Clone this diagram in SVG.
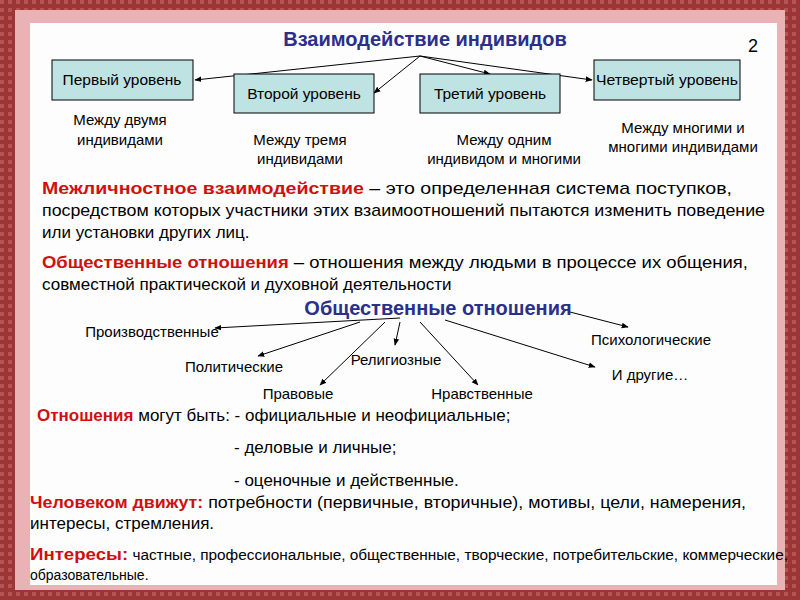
<svg xmlns="http://www.w3.org/2000/svg" width="800" height="600" viewBox="0 0 800 600">
<defs>
<marker id="ah" viewBox="0 0 10 10" refX="9" refY="5" markerWidth="7" markerHeight="7" orient="auto"><path d="M0,1 L10,5 L0,9 z" fill="#000"/></marker>
<pattern id="pat" width="8" height="8" patternUnits="userSpaceOnUse"><rect width="8" height="8" fill="#9c3535"/><rect width="4" height="4" fill="#b55252"/></pattern>
</defs>
<style>
text{font-family:"Liberation Sans",Arial,sans-serif;fill:#000}
.box{fill:#bfe2e2;stroke:#000;stroke-width:1}
.bt{font-size:15.5px;text-anchor:middle}
.s{font-size:15px;text-anchor:middle}
.b{font-size:17px}
.red{fill:#d01010;font-weight:bold}
.hd{fill:#2b2f8a;font-weight:bold;font-size:20px;text-anchor:middle}
.c line{stroke:#000;stroke-width:1;marker-end:url(#ah)}
</style>
<rect width="800" height="600" fill="url(#pat)"/>
<rect x="15" y="10" width="770" height="580" fill="#e9b3b5"/>
<rect x="30" y="23" width="747" height="562" fill="#fdfdfd"/>
<text x="425" y="46" class="hd">Взаимодействие индивидов</text>
<text x="748" y="52" font-size="18">2</text>
<g class="c">
<line x1="420" y1="56" x2="195" y2="80"/>
<line x1="420" y1="56" x2="374" y2="93"/>
<line x1="420" y1="56" x2="490" y2="74"/>
<line x1="420" y1="56" x2="592" y2="80"/>
<line x1="400" y1="318" x2="215" y2="328"/>
<line x1="360" y1="322" x2="258" y2="356"/>
<line x1="385" y1="322" x2="320" y2="385"/>
<line x1="400" y1="322" x2="395" y2="345"/>
<line x1="420" y1="322" x2="478" y2="385"/>
<line x1="445" y1="320" x2="595" y2="367"/>
<line x1="570" y1="312" x2="628" y2="327"/>
</g>
<g id="n1"><rect x="52" y="60" width="141" height="40" class="box"/><text x="122" y="85" class="bt">Первый уровень</text></g>
<g id="n2"><rect x="234" y="74" width="140" height="39" class="box"/><text x="304" y="99" class="bt">Второй уровень</text></g>
<g id="n3"><rect x="420" y="74" width="140" height="39" class="box"/><text x="490" y="99" class="bt">Третий уровень</text></g>
<g id="n4"><rect x="594" y="60" width="146" height="40" class="box"/><text x="667" y="85" class="bt" textLength="142" lengthAdjust="spacingAndGlyphs">Четвертый уровень</text></g>
<text class="s"><tspan x="120" y="125">Между двумя</tspan><tspan x="120" y="145">индивидами</tspan></text>
<text class="s"><tspan x="300" y="145">Между тремя</tspan><tspan x="300" y="164">индивидами</tspan></text>
<text class="s"><tspan x="504" y="145">Между одним</tspan><tspan x="504" y="164">индивидом и многими</tspan></text>
<text class="s"><tspan x="683" y="133">Между многими и</tspan><tspan x="683" y="152">многими индивидами</tspan></text>
<text class="b" x="42" y="194" textLength="690" lengthAdjust="spacingAndGlyphs"><tspan class="red">Межличностное взаимодействие</tspan> – это определенная система поступков,</text>
<text class="b" x="42" y="216" textLength="723" lengthAdjust="spacingAndGlyphs">посредством которых участники этих взаимоотношений пытаются изменить поведение</text>
<text class="b" x="42" y="238">или установки других лиц.</text>
<text class="b" x="42" y="268" textLength="706" lengthAdjust="spacingAndGlyphs"><tspan class="red">Общественные отношения</tspan> – отношения между людьми в процессе их общения,</text>
<text class="b" x="42" y="290">совместной практической и духовной деятельности</text>
<text x="438" y="315" class="hd" font-size="19">Общественные отношения</text>
<text class="s"><tspan x="152" y="337">Производственные</tspan><tspan x="234" y="372">Политические</tspan><tspan x="396" y="365">Религиозные</tspan><tspan x="298" y="399">Правовые</tspan><tspan x="482" y="399">Нравственные</tspan><tspan x="651" y="345">Психологические</tspan><tspan x="650" y="380">И другие…</tspan></text>
<text class="b" x="37" y="421"><tspan class="red">Отношения</tspan> могут быть: - официальные и неофициальные;</text>
<text class="b" x="234" y="453">- деловые и личные;</text>
<text class="b" x="234" y="486">- оценочные и действенные.</text>
<text class="b" x="30" y="508" textLength="716" lengthAdjust="spacingAndGlyphs"><tspan class="red">Человеком движут:</tspan> потребности (первичные, вторичные), мотивы, цели, намерения,</text>
<text class="b" x="30" y="529">интересы, стремления.</text>
<text font-size="14" x="30" y="560" textLength="758" lengthAdjust="spacingAndGlyphs"><tspan class="red" font-size="17">Интересы:</tspan> частные, профессиональные, общественные, творческие, потребительские, коммерческие,</text>
<text font-size="14" x="30" y="580">образовательные.</text>
</svg>
